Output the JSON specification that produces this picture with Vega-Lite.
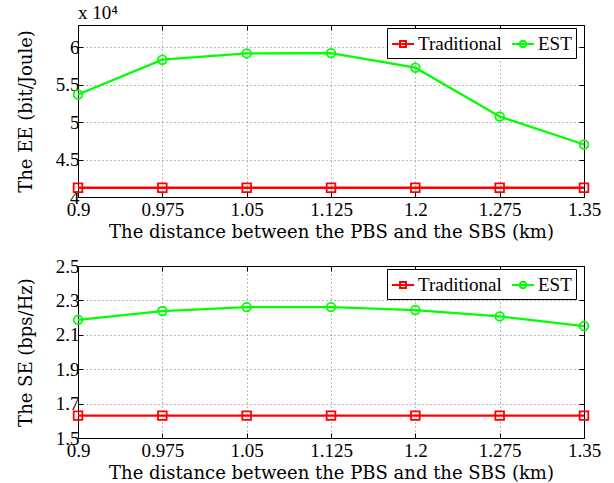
{
  "$schema": "https://vega.github.io/schema/vega-lite/v6.json",
  "padding": {"left": 16, "top": 3, "right": 5, "bottom": 0},
  "background": "white",
  "datasets": {
    "ee": [
      {"series": "Traditional", "d": 0.9, "v": 4.124},
      {"series": "Traditional", "d": 0.975, "v": 4.124},
      {"series": "Traditional", "d": 1.05, "v": 4.124},
      {"series": "Traditional", "d": 1.125, "v": 4.124},
      {"series": "Traditional", "d": 1.2, "v": 4.124},
      {"series": "Traditional", "d": 1.275, "v": 4.124},
      {"series": "Traditional", "d": 1.35, "v": 4.124},
      {"series": "EST", "d": 0.9, "v": 5.371},
      {"series": "EST", "d": 0.975, "v": 5.836},
      {"series": "EST", "d": 1.05, "v": 5.92},
      {"series": "EST", "d": 1.125, "v": 5.924},
      {"series": "EST", "d": 1.2, "v": 5.729},
      {"series": "EST", "d": 1.275, "v": 5.076},
      {"series": "EST", "d": 1.35, "v": 4.702}
    ],
    "se": [
      {"series": "Traditional", "d": 0.9, "v": 1.63},
      {"series": "Traditional", "d": 0.975, "v": 1.63},
      {"series": "Traditional", "d": 1.05, "v": 1.63},
      {"series": "Traditional", "d": 1.125, "v": 1.63},
      {"series": "Traditional", "d": 1.2, "v": 1.63},
      {"series": "Traditional", "d": 1.275, "v": 1.63},
      {"series": "Traditional", "d": 1.35, "v": 1.63},
      {"series": "EST", "d": 0.9, "v": 2.187},
      {"series": "EST", "d": 0.975, "v": 2.238},
      {"series": "EST", "d": 1.05, "v": 2.261},
      {"series": "EST", "d": 1.125, "v": 2.261},
      {"series": "EST", "d": 1.2, "v": 2.244},
      {"series": "EST", "d": 1.275, "v": 2.207},
      {"series": "EST", "d": 1.35, "v": 2.151}
    ]
  },
  "config": {
    "view": {"stroke": "black", "strokeWidth": 1},
    "font": "Liberation Serif",
    "axis": {
      "domainColor": "black",
      "tickColor": "black",
      "tickSize": -5,
      "labelFont": "Liberation Serif",
      "labelFontSize": 19,
      "labelColor": "black",
      "titleFont": "DejaVu Serif",
      "titleFontSize": 18,
      "titleFontWeight": "normal",
      "titleColor": "black",
      "gridColor": "#777777",
      "gridDash": [1, 3],
      "gridOpacity": 1,
      "gridWidth": 1
    }
  },
  "spacing": 14,
  "resolve": {"scale": {"color": "independent"}, "legend": {"color": "independent"}},
  "vconcat": [
    {
      "width": 506,
      "height": 172,
      "data": {"name": "ee"},
      "title": {"text": "x 10⁴", "anchor": "start", "frame": "group", "font": "Liberation Serif", "fontSize": 19, "fontWeight": "normal", "color": "black", "offset": 2},
      "layer": [
        {
          "mark": {"type": "line", "strokeWidth": 2.3},
          "encoding": {
            "x": {"field": "d", "type": "quantitative", "scale": {"domain": [0.9, 1.35], "nice": false, "zero": false},
              "axis": {"values": [0.9, 0.975, 1.05, 1.125, 1.2, 1.275, 1.35], "labelExpr": "'' + datum.value", "title": "The distance between the PBS and the SBS (km)", "labelPadding": 8, "titlePadding": 4, "labelFlush": false}},
            "y": {"field": "v", "type": "quantitative", "scale": {"domain": [4, 6.3], "nice": false, "zero": false},
              "axis": {"values": [4, 4.5, 5, 5.5, 6], "labelExpr": "'' + datum.value", "title": "The EE (bit/Joule)", "labelPadding": 4, "titlePadding": 20}},
            "color": {"field": "series", "type": "nominal", "sort": ["Traditional", "EST"],
              "scale": {"domain": ["Traditional", "EST"], "range": ["#ff0000", "#00ff00"]},
              "legend": {"orient": "none", "legendX": 309, "legendY": 3, "direction": "horizontal", "title": null,
                "fillColor": "white", "strokeColor": "black", "padding": 4, "labelFont": "Liberation Serif", "labelFontSize": 19,
                "labelColor": "black", "symbolSize": 484, "symbolStrokeWidth": 2, "columnPadding": 6, "labelOffset": 3,
                "encode": {"symbols": {"update": {"shape": {"signal": "datum.value == 'EST' ? 'M-1,0H1M0.3,0A0.3,0.3 0 1 1 -0.3,0A0.3,0.3 0 1 1 0.3,0Z' : 'M-1,0H1M-0.27,-0.27H0.27V0.27H-0.27Z'"}}}}}}
          }
        },
        {
          "mark": {"type": "point", "filled": false, "strokeWidth": 1.8, "size": 75, "opacity": 1},
          "encoding": {
            "x": {"field": "d", "type": "quantitative", "axis": {"orient": "top", "values": [0.9, 0.975, 1.05, 1.125, 1.2, 1.275, 1.35], "labels": false, "grid": false, "title": null}},
            "y": {"field": "v", "type": "quantitative", "axis": {"orient": "right", "values": [4, 4.5, 5, 5.5, 6], "labels": false, "grid": false, "title": null}},
            "color": {"field": "series", "type": "nominal", "legend": null},
            "shape": {"field": "series", "type": "nominal", "scale": {"domain": ["Traditional", "EST"], "range": ["square", "circle"]}, "legend": null}
          }
        }
      ],
      "resolve": {"axis": {"x": "independent", "y": "independent"}}
    },
    {
      "width": 506,
      "height": 172,
      "data": {"name": "se"},
      "layer": [
        {
          "mark": {"type": "line", "strokeWidth": 2.3},
          "encoding": {
            "x": {"field": "d", "type": "quantitative", "scale": {"domain": [0.9, 1.35], "nice": false, "zero": false},
              "axis": {"values": [0.9, 0.975, 1.05, 1.125, 1.2, 1.275, 1.35], "labelExpr": "'' + datum.value", "title": "The distance between the PBS and the SBS (km)", "labelPadding": 8, "titlePadding": 4, "labelFlush": false}},
            "y": {"field": "v", "type": "quantitative", "scale": {"domain": [1.5, 2.5], "nice": false, "zero": false},
              "axis": {"values": [1.5, 1.7, 1.9, 2.1, 2.3, 2.5], "labelExpr": "'' + datum.value", "title": "The SE (bps/Hz)", "labelPadding": 4, "titlePadding": 20}},
            "color": {"field": "series", "type": "nominal", "sort": ["Traditional", "EST"],
              "scale": {"domain": ["Traditional", "EST"], "range": ["#ff0000", "#00ff00"]},
              "legend": {"orient": "none", "legendX": 309, "legendY": 3, "direction": "horizontal", "title": null,
                "fillColor": "white", "strokeColor": "black", "padding": 4, "labelFont": "Liberation Serif", "labelFontSize": 19,
                "labelColor": "black", "symbolSize": 484, "symbolStrokeWidth": 2, "columnPadding": 6, "labelOffset": 3,
                "encode": {"symbols": {"update": {"shape": {"signal": "datum.value == 'EST' ? 'M-1,0H1M0.3,0A0.3,0.3 0 1 1 -0.3,0A0.3,0.3 0 1 1 0.3,0Z' : 'M-1,0H1M-0.27,-0.27H0.27V0.27H-0.27Z'"}}}}}}
          }
        },
        {
          "mark": {"type": "point", "filled": false, "strokeWidth": 1.8, "size": 75, "opacity": 1},
          "encoding": {
            "x": {"field": "d", "type": "quantitative", "axis": {"orient": "top", "values": [0.9, 0.975, 1.05, 1.125, 1.2, 1.275, 1.35], "labels": false, "grid": false, "title": null}},
            "y": {"field": "v", "type": "quantitative", "axis": {"orient": "right", "values": [1.5, 1.7, 1.9, 2.1, 2.3, 2.5], "labels": false, "grid": false, "title": null}},
            "color": {"field": "series", "type": "nominal", "legend": null},
            "shape": {"field": "series", "type": "nominal", "scale": {"domain": ["Traditional", "EST"], "range": ["square", "circle"]}, "legend": null}
          }
        }
      ],
      "resolve": {"axis": {"x": "independent", "y": "independent"}}
    }
  ]
}
